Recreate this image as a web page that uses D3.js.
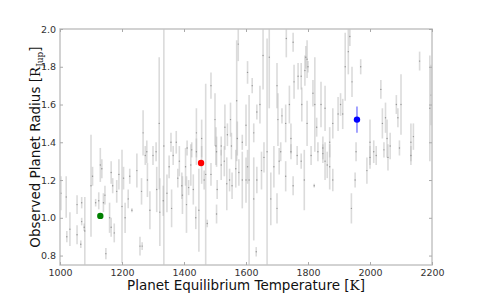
<!DOCTYPE html>
<html><head><meta charset="utf-8">
<script src="https://cdn.jsdelivr.net/npm/d3@7"></script>
<style>body{margin:0;background:#fff}svg{display:block}</style>
</head><body>
<svg id="c" width="480" height="295"></svg>
<script>
// Gray sample: equilibrium temperature [K], radius [R_Jup], symmetric radius error
const temps = [1003,1020,1022,1032,1055,1055,1067,1070,1070,1078,1080,1100,1105,1115,1125,1130,1135,1140,1145,1148,1160,1165,1165,1170,1175,1183,1190,1200,1205,1210,1220,1225,1232,1248,1258,1263,1265,1275,1282,1290,1300,1312,1322,1333,1345,1365,1380,1393,
1268,1280,1310,1320,1335,1358,1375,1352,1385,1395,1360,1430,
1410,1425,1440,1457,1470,1487,1500,1503,1520,1532,1540,1550,1553,1570,1575,1572,1588,1600,1605,1610,1620,1625,1635,1645,1655,1668,1675,1700,1703,1716,1728,1730,1740,1745,1752,1755,1768,1778,1780,1790,1793,1797,1797,
1800,1816,1822,1828,1842,1848,1855,1870,1880,1897,1905,1912,1920,1930,1935,1942,1955,1970,2000,2012,2035,2040,2050,2055,2065,2085,2090,2100,2132,2140,2160,2193,2197,
1810,1820,1832,1848,1855,1862,1870,1880,1940,1952,1990,2000,2020,2045,2058,2095,2132,
1405,1408,1415,1422,1438,1440,1448,1457,1465,1475,1487,1505,1505,1507,1520,1530,1538,1547,1555,1567,1577,1588,1600,1605,1625,1633,1635,1650,1658,1680,1690,1700,1707,1712,1728,1745,1752,1765,1778,1788];
const radii = [1.13,1.11,0.90,0.94,1.07,0.91,0.86,1.08,0.98,0.95,0.93,1.17,1.22,1.08,1.09,1.28,1.26,1.08,1.12,0.81,1.00,1.24,0.95,1.17,0.92,1.14,1.23,1.06,1.21,1.00,1.10,1.22,1.04,1.25,0.85,1.14,0.85,1.33,1.20,1.04,1.33,1.15,1.03,1.09,1.13,1.33,1.21,1.17,
1.45,1.35,1.35,1.50,1.38,1.40,1.40,1.27,1.30,1.12,1.05,1.15,
1.37,1.36,1.45,1.42,1.23,1.70,1.52,1.38,1.38,1.48,1.44,1.52,1.38,1.62,1.92,1.42,1.40,1.49,1.77,1.20,1.70,1.45,1.56,1.60,1.86,1.35,1.85,1.70,1.52,1.54,1.50,1.95,1.60,1.42,1.93,1.72,1.75,1.75,1.60,1.78,1.85,1.84,1.50,
1.80,1.66,1.60,1.48,1.60,1.37,1.58,1.40,1.50,1.55,1.60,1.55,1.80,1.88,1.96,1.72,1.35,1.80,1.40,1.35,1.68,1.50,1.53,1.42,1.38,1.60,1.53,1.60,1.40,1.43,1.83,1.58,1.65,
1.33,1.17,1.35,1.34,1.30,1.28,1.27,1.20,1.05,1.20,1.25,1.32,1.33,1.36,1.32,1.37,1.33,
1.27,1.07,1.16,1.28,1.00,1.35,1.04,1.28,1.20,0.97,1.23,1.02,1.35,1.15,1.28,1.30,1.18,1.20,1.17,1.26,1.24,1.20,1.20,1.27,1.10,0.82,1.20,1.25,1.32,1.10,1.27,1.05,1.30,1.35,1.22,1.35,1.17,1.33,1.30,1.20];
const errs = [0.09,0.11,0.03,0.09,0.05,0.05,0.02,0.03,0.02,0.02,0.18,0.27,0.05,0.02,0.045,0.09,0.05,0.05,0.05,0.03,0.08,0.06,0.05,0.04,0.05,0.06,0.08,0.30,0.06,0.08,0.05,0.04,0.01,0.09,0.05,0.07,0.02,0.05,0.09,0.10,0.05,0.12,0.18,0.08,0.10,0.05,0.05,0.07,
0.12,0.06,0.05,0.35,0.63,0.05,0.06,0.06,0.08,0.10,0.10,0.08,
0.04,0.04,0.13,0.10,0.48,0.07,0.14,0.10,0.05,0.12,0.06,0.09,0.07,0.32,0.09,0.09,0.04,0.11,0.06,0.45,0.04,0.05,0.04,0.10,0.18,0.60,0.27,0.12,0.14,0.04,0.10,0.10,0.10,0.08,0.05,0.09,0.07,0.07,0.09,0.08,0.06,0.10,0.12,
0.03,0.07,0.25,0.05,0.12,0.06,0.12,0.08,0.08,0.09,0.06,0.08,0.18,0.12,0.05,0.08,0.05,0.04,0.12,0.06,0.05,0.08,0.08,0.10,0.07,0.05,0.05,0.16,0.10,0.07,0.05,0.28,0.16,
0.05,0.01,0.05,0.05,0.10,0.07,0.12,0.06,0.08,0.04,0.07,0.06,0.05,0.04,0.07,0.04,0.05,
0.10,0.15,0.04,0.11,0.06,0.07,0.22,0.10,0.05,0.02,0.06,0.05,0.08,0.05,0.08,0.08,0.14,0.06,0.07,0.10,0.07,0.15,0.12,0.09,0.22,0.025,0.07,0.10,0.08,0.14,0.11,0.08,0.07,0.05,0.08,0.04,0.05,0.05,0.04,0.16];

// Highlighted planets
const hiTemps = [1130, 1455, 1958];
const hiRadii = [1.01, 1.29, 1.52];
const hiErrs  = [0.005, 0.01, 0.07];
const hiColors = ["#008000", "#ff0000", "#0000ff"];

const xTicks = [1000,1200,1400,1600,1800,2000,2200];
const yTicks = [0.8,1.0,1.2,1.4,1.6,1.8,2.0];

const L=60, R=432, T=29, B=265;
const svg = d3.select("#c");
const x = d3.scaleLinear().domain([1000,2200]).range([L,R]);
const y = d3.scaleLinear().domain([0.75,2.0]).range([B,T]);

svg.append("defs").append("clipPath").attr("id","clip")
  .append("rect").attr("x",L).attr("y",T).attr("width",R-L).attr("height",B-T);

const data = temps.map((t,i)=>({t, r:radii[i], e:errs[i]}));
const g = svg.append("g").attr("clip-path","url(#clip)");
g.selectAll("line.eb").data(data).join("line").attr("class","eb")
  .attr("x1",d=>x(d.t)).attr("x2",d=>x(d.t))
  .attr("y1",d=>y(d.r-d.e)).attr("y2",d=>y(d.r+d.e))
  .attr("stroke","#b8b8b8").attr("stroke-opacity",0.5).attr("stroke-width",1.6);
g.selectAll("circle.pt").data(data).join("circle").attr("class","pt")
  .attr("cx",d=>x(d.t)).attr("cy",d=>y(d.r)).attr("r",0.7)
  .attr("fill","#777").attr("fill-opacity",0.7);

const hi = hiTemps.map((t,i)=>({t, r:hiRadii[i], e:hiErrs[i], c:hiColors[i]}));
g.selectAll("line.hb").data(hi).join("line").attr("class","hb")
  .attr("x1",d=>x(d.t)).attr("x2",d=>x(d.t))
  .attr("y1",d=>y(d.r-d.e)).attr("y2",d=>y(d.r+d.e))
  .attr("stroke",d=>d.c).attr("stroke-opacity",0.6).attr("stroke-width",1.2);
g.selectAll("circle.hp").data(hi).join("circle").attr("class","hp")
  .attr("cx",d=>x(d.t)).attr("cy",d=>y(d.r)).attr("r",3.2)
  .attr("fill",d=>d.c);

// frame
const spine = "#c4c4c4";
svg.append("rect").attr("x",L).attr("y",T).attr("width",R-L).attr("height",B-T)
  .attr("fill","none").attr("stroke",spine).attr("stroke-width",1.5);

const fontF = "DejaVu Sans, sans-serif";
const xa = svg.append("g").attr("transform",`translate(0,${B})`)
  .call(d3.axisBottom(x).tickValues(xTicks).tickSize(-3).tickPadding(4).tickFormat(d3.format("d")));
const ya = svg.append("g").attr("transform",`translate(${L},0)`)
  .call(d3.axisLeft(y).tickValues(yTicks).tickSize(-3).tickPadding(4).tickFormat(d3.format(".1f")));
const xt = svg.append("g").attr("transform",`translate(0,${T})`)
  .call(d3.axisTop(x).tickValues(xTicks).tickSize(-3).tickFormat(""));
const yr = svg.append("g").attr("transform",`translate(${R},0)`)
  .call(d3.axisRight(y).tickValues(yTicks).tickSize(-3).tickFormat(""));
[xa,ya,xt,yr].forEach(a=>{
  a.select(".domain").remove();
  a.selectAll(".tick line").attr("stroke","#aaa");
  a.selectAll("text").attr("font-family",fontF).attr("font-size","9.5px").attr("fill","#333");
});

// axis titles
const xl = svg.append("text").attr("x",(L+R)/2).attr("y",290).attr("text-anchor","middle")
  .attr("font-family",fontF).attr("font-size","13.5px").attr("fill","#111");
xl.append("tspan").text("Planet Equilibrium Temperature [");
xl.append("tspan").attr("font-family","DejaVu Serif, serif").text("K");
xl.append("tspan").text("]");

const yl = svg.append("text").attr("transform",`translate(40,${(T+B)/2}) rotate(-90)`)
  .attr("text-anchor","middle").attr("font-family",fontF).attr("font-size","13.5px").attr("fill","#111");
yl.append("tspan").text("Observed Planet Radius [");
yl.append("tspan").attr("font-family","DejaVu Serif, serif").text("R");
yl.append("tspan").attr("font-family","DejaVu Serif, serif").attr("font-size","9px").attr("dy","3").text("Jup");
yl.append("tspan").attr("dy","-3").text("]");
</script>
</body></html>
